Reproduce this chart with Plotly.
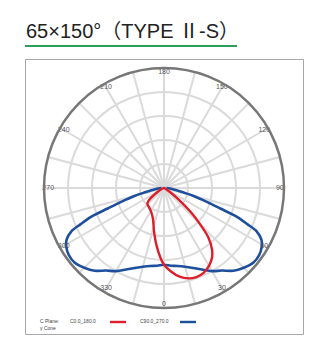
import plotly.graph_objects as go

W, H = 326, 349

# Red curve: C0.0_180.0 (relative intensity vs gamma angle)
red_right_deg = [0, 5, 10, 15, 20, 25, 30, 35, 38, 42, 45, 48, 52, 56, 60, 90]
red_right_r = [0.64, 0.70, 0.75, 0.78, 0.79, 0.78, 0.75, 0.70, 0.65, 0.55, 0.42, 0.30, 0.15, 0.06, 0.02, 0.0]
red_left_deg = [0, 3, 8, 13, 20, 30, 40, 47, 52, 57, 65, 90]
red_left_r = [0.64, 0.58, 0.47, 0.37, 0.27, 0.22, 0.20, 0.19, 0.15, 0.08, 0.03, 0.0]

# Blue curve: C90.0_270.0 (symmetric)
blue_deg = [0, 5, 10, 15, 20, 25, 30, 35, 40, 45, 50, 55, 59, 62, 65, 66.5, 68.5, 70, 72, 75, 77, 80, 85, 90]
blue_r = [0.64, 0.65, 0.66, 0.68, 0.71, 0.75, 0.80, 0.84, 0.90, 0.94, 0.97, 0.97, 0.95, 0.92, 0.85, 0.76, 0.65, 0.50, 0.38, 0.25, 0.17, 0.10, 0.05, 0.02]

angle_labels = [0, 30, 60, 90, 120, 150, 180, 210, 240, 270, 300, 330]
grid_angles = list(range(0, 360, 15))
radial_grid = [0.2, 0.4, 0.6, 0.8]

title_text = "65×150°（TYPE Ⅱ-S）"
legend_head = ["C Plane:", "γ Cone"]
legend_names = ["C0.0_180.0", "C90.0_270.0"]
RED = "#dd1f2b"
BLUE = "#1d4f9c"


def px(x):
    return x / W


def py(y):
    return 1 - y / H


# Build closed curves (left side angles = 360 - a)
red_theta = [360 - a for a in reversed(red_left_deg)] + red_right_deg[1:]
red_r = list(reversed(red_left_r)) + red_right_r[1:]
red_theta = [270] + red_theta[1:]
blue_theta = [360 - a for a in reversed(blue_deg)] + blue_deg[1:]
blue_rr = list(reversed(blue_r)) + blue_r[1:]

fig = go.Figure()
fig.add_trace(go.Scatterpolar(theta=blue_theta, r=blue_rr, mode="lines",
                              line=dict(color=BLUE, width=2.6, shape="spline", smoothing=0.8),
                              showlegend=False, hoverinfo="skip"))
fig.add_trace(go.Scatterpolar(theta=red_theta, r=red_r, mode="lines",
                              line=dict(color=RED, width=2.4, shape="spline", smoothing=0.8),
                              showlegend=False, hoverinfo="skip"))
fig.add_trace(go.Scatterpolar(theta=angle_labels, r=[0.965] * len(angle_labels), mode="text",
                              text=[str(a) for a in angle_labels],
                              textfont=dict(size=7, color="#555", family="Liberation Sans"),
                              showlegend=False, hoverinfo="skip"))

fig.update_layout(
    width=W, height=H, margin=dict(l=0, r=0, t=0, b=0),
    paper_bgcolor="white", plot_bgcolor="white",
    polar=dict(
        domain=dict(x=[px(44), px(284)], y=[py(308), py(68)]),
        bgcolor="white",
        angularaxis=dict(rotation=270, direction="counterclockwise",
                         tickmode="array", tickvals=grid_angles, showticklabels=False,
                         ticks="", gridcolor="#dadada", gridwidth=1.6,
                         linecolor="#777777", linewidth=2.5, showline=True),
        radialaxis=dict(range=[0, 1], tickmode="array", tickvals=radial_grid,
                        showticklabels=False, ticks="", showline=False,
                        gridcolor="#dadada", gridwidth=1.6),
    ),
    shapes=[
        dict(type="line", xref="paper", yref="paper", x0=px(25), x1=px(237), y0=py(46), y1=py(46),
             line=dict(color="#2f9e58", width=2)),
        dict(type="rect", xref="paper", yref="paper", x0=px(25.5), x1=px(303.5), y0=py(59.5), y1=py(334.5),
             line=dict(color="#a8a8a8", width=1)),
        dict(type="line", xref="paper", yref="paper", x0=px(110), x1=px(126), y0=py(322), y1=py(322),
             line=dict(color=RED, width=2.4)),
        dict(type="line", xref="paper", yref="paper", x0=px(180), x1=px(196), y0=py(322), y1=py(322),
             line=dict(color=BLUE, width=2.4)),
    ],
    annotations=[
        dict(text=title_text, xref="paper", yref="paper", x=px(24), y=py(31), xanchor="left",
             yanchor="middle", showarrow=False,
             font=dict(size=20, color="#222", family="Liberation Sans, Noto Sans CJK SC")),
        dict(text=legend_head[0], xref="paper", yref="paper", x=px(38), y=py(321), xanchor="left",
             yanchor="middle", showarrow=False, font=dict(size=5, color="#444", family="Liberation Sans")),
        dict(text=legend_head[1], xref="paper", yref="paper", x=px(38), y=py(328), xanchor="left",
             yanchor="middle", showarrow=False, font=dict(size=5, color="#444", family="Liberation Sans")),
        dict(text=legend_names[0], xref="paper", yref="paper", x=px(68), y=py(321), xanchor="left",
             yanchor="middle", showarrow=False, font=dict(size=5, color="#444", family="Liberation Sans")),
        dict(text=legend_names[1], xref="paper", yref="paper", x=px(138), y=py(321), xanchor="left",
             yanchor="middle", showarrow=False, font=dict(size=5, color="#444", family="Liberation Sans")),
    ],
)

fig.write_html("out.html")
